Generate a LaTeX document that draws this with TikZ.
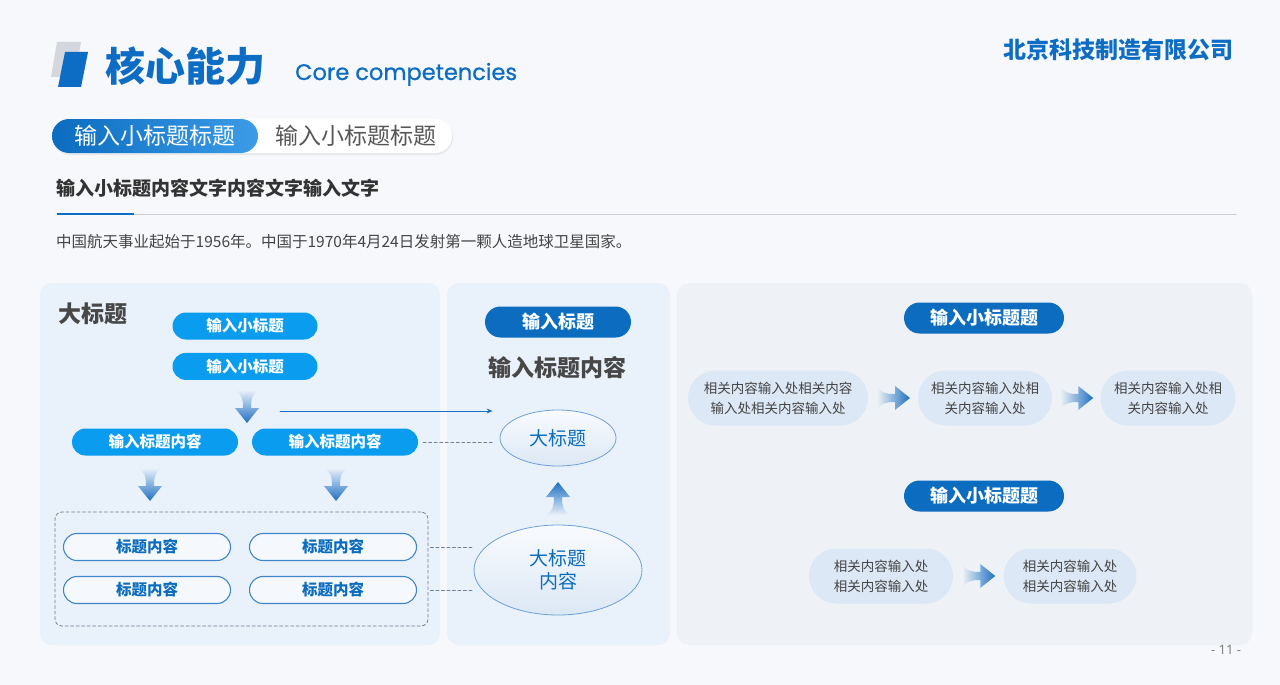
\documentclass[tikz,border=0pt]{standalone}
\usepackage{fontspec}
\setmainfont{Noto Sans CJK SC}
\newfontfamily\latim{Poppins}[FakeBold=0.8]
\newfontfamily\numeros{Noto Sans}
\usetikzlibrary{positioning,calc,arrows.meta,shapes.geometric,shapes.misc,shadows}

\definecolor{azulTitulo}{HTML}{0D6CC4}
\definecolor{azulVivo}{HTML}{0A9CEF}
\definecolor{azulEscuro}{HTML}{0B6CC0}
\definecolor{azulClaro}{HTML}{3C9CE8}
\definecolor{azulSeta}{HTML}{1E6FC2}
\definecolor{fundo}{HTML}{F6F8FB}
\definecolor{painel}{HTML}{E9F1FA}
\definecolor{painelB}{HTML}{EEF2F6}
\definecolor{caixa}{HTML}{DCE8F5}
\definecolor{cinza}{HTML}{444444}
\definecolor{cinzaEsc}{HTML}{333333}
\definecolor{linha}{HTML}{C9CED6}
\definecolor{tracejado}{HTML}{6E7F96}

\begin{document}
\begin{tikzpicture}[
    x=1pt, y=-1pt,
    line cap=round,
    every node/.style={inner sep=0pt},
    pilula/.style={rounded rectangle, fill=azulVivo, text=white,
        font=\bfseries\fontsize{15.5}{18}\selectfont, minimum height=27pt},
    pilulaEsc/.style={rounded rectangle, fill=azulEscuro, text=white,
        font=\bfseries\fontsize{18}{21}\selectfont, minimum height=31pt},
    contorno/.style={rounded rectangle, draw=azulSeta!85, line width=1.1pt,
        fill=white!55!painel, text=azulEscuro,
        font=\bfseries\fontsize{15.5}{18}\selectfont,
        minimum width=167pt, minimum height=27pt},
    bloco/.style={rounded rectangle, fill=caixa, text=cinza, align=center,
        font=\fontsize{13.5}{20}\selectfont, minimum height=55pt},
    elipse/.style={ellipse, draw=azulSeta!65, line width=0.8pt,
        top color=white!70!painel, bottom color=caixa, text=azulEscuro},
    trac/.style={draw=tracejado, line width=0.8pt, dash pattern=on 3pt off 2.5pt},
    fina/.style={-{Stealth[length=6pt,width=5pt]}, draw=azulSeta, line width=0.9pt},
    pics/setaBaixo/.style={
        code={
            \shade[top color=painel, bottom color=azulSeta]
                (-12,-16) .. controls (-5,-12) and (-4,-7) .. (-4,2) -- (-12,2)
                -- (0,17) -- (12,2) -- (4,2) .. controls (4,-7) and (5,-12) .. (12,-16) -- cycle;
        }
    },
    pics/setaCima/.style={
        code={
            \shade[bottom color=painel, top color=azulSeta]
                (-12,16) .. controls (-5,12) and (-4,7) .. (-4,-2) -- (-12,-2)
                -- (0,-17) -- (12,-2) -- (4,-2) .. controls (4,7) and (5,12) .. (12,16) -- cycle;
        }
    },
    pics/setaDir/.style={
        code={
            \shade[left color=painelB, right color=azulSeta]
                (-16,-12) .. controls (-12,-5) and (-7,-4) .. (2,-4) -- (2,-12)
                -- (17,0) -- (2,12) -- (2,4) .. controls (-7,4) and (-12,5) .. (-16,12) -- cycle;
        }
    }
]

% Fundo
\useasboundingbox (0,0) rectangle (1280,685);
\fill[fundo] (0,0) rectangle (1280,685);

% Titulo
\fill[linha!80] (57,42) -- (81,42) -- (75,77) -- (51,77) -- cycle;
\fill[azulTitulo] (65,52) -- (88,52) -- (81,87) -- (58,87) -- cycle;
\node[anchor=west, text=azulTitulo, font=\bfseries\fontsize{40}{44}\selectfont] (titulo) at (105,66) {核心能力};
\node[anchor=base west, text=azulTitulo, font=\latim\fontsize{22.5}{26}\selectfont] (subtitulo) at (295,80) {Core competencies};
\node[anchor=east, text=azulTitulo, font=\bfseries\fontsize{23}{26}\selectfont] (empresa) at (1234,50) {北京科技制造有限公司};

% Abas
\node[rounded rectangle, fill=white, drop shadow={opacity=0.12, shadow xshift=1pt, shadow yshift=-2pt},
    minimum width=400pt, minimum height=34pt] (abaB) at (252,136) {};
\node[rounded rectangle, left color=azulEscuro, right color=azulClaro, text=white,
    font=\fontsize{23}{26}\selectfont, minimum width=206pt, minimum height=34pt] (abaA) at (155,136) {输入小标题标题};
\node[right=17pt of abaA, text=cinza!90, font=\fontsize{23}{26}\selectfont] (abaTexto) {输入小标题标题};

% Secao
\node[anchor=west, text=cinzaEsc, font=\bfseries\fontsize{19}{22}\selectfont] (secao) at (56,188) {输入小标题内容文字内容文字输入文字};
\draw[linha, line width=1pt] (57,214) -- (1236,214);
\draw[azulTitulo, line width=2.5pt, line cap=butt] (57,214) -- (134,214);
\node[anchor=west, text=cinza, font=\fontsize{15.5}{18}\selectfont] (texto) at (56,242) {中国航天事业起始于1956年。中国于1970年4月24日发射第一颗人造地球卫星国家。};

% Paineis
\fill[painel, rounded corners=12pt] (40,283) rectangle (440,645);
\fill[painel, rounded corners=12pt] (447,283) rectangle (670,645);
\fill[painelB, rounded corners=12pt] (677,283) rectangle (1252,645);

% Painel da esquerda
\node[anchor=west, text=cinzaEsc!90, font=\bfseries\fontsize{23}{26}\selectfont] (grande) at (58,314) {大标题};
\node[pilula, minimum width=145pt] (p1) at (245,326) {输入小标题};
\node[pilula, minimum width=145pt, below=13pt of p1] (p2) {输入小标题};
\pic at (247,406) {setaBaixo};
\coordinate (inicio) at (280,411);

\node[pilula, minimum width=166pt] (p3) at (155,442) {输入标题内容};
\node[pilula, minimum width=166pt] (p4) at (335,442) {输入标题内容};
\pic at (150,484) {setaBaixo};
\pic at (336,484) {setaBaixo};

\node[draw=tracejado, line width=0.8pt, dash pattern=on 3pt off 2.5pt, rounded corners=7pt,
    minimum width=373pt, minimum height=114pt] (grupo) at (241.5,569) {};
\node[contorno] (c1) at (147,547) {标题内容};
\node[contorno] (c2) at (333,547) {标题内容};
\node[contorno] (c3) at (147,590) {标题内容};
\node[contorno] (c4) at (333,590) {标题内容};

% Painel do meio
\node[pilulaEsc, minimum width=146pt] (m1) at (558,322) {输入标题};
\node[text=cinzaEsc!90, font=\bfseries\fontsize{23}{26}\selectfont] (m2) at (557,368) {输入标题内容};
\node[elipse, minimum width=116pt, minimum height=56pt, font=\fontsize{19}{22}\selectfont] (e1) at (558,438) {大标题};
\pic at (558,499) {setaCima};
\node[elipse, minimum width=168pt, minimum height=90pt, align=center,
    font=\fontsize{19}{23}\selectfont] (e2) at (558,570) {大标题\\内容};

% Ligacoes
\draw[fina, shorten >=7pt] (inicio) -- (inicio -| e1.west);
\draw[trac, shorten <=5pt, shorten >=5pt] (p4.east) -- (p4.east -| e1.west);
\draw[trac, shorten <=2pt] (grupo.east |- c2) -- (c2 -| e2.west);
\draw[trac, shorten <=2pt] (grupo.east |- c4) -- (c4 -| e2.west);

% Painel da direita
\node[pilulaEsc, minimum width=160pt] (r0) at (984,318) {输入小标题题};
\node[bloco, minimum width=180pt] (r1) at (778,398) {相关内容输入处相关内容\\输入处相关内容输入处};
\node[bloco, minimum width=134pt] (r2) at (985,398) {相关内容输入处相\\关内容输入处};
\node[bloco, minimum width=135pt] (r3) at (1168,398) {相关内容输入处相\\关内容输入处};
\pic at ($(r1.east)!0.5!(r2.west)$) {setaDir};
\pic at ($(r2.east)!0.5!(r3.west)$) {setaDir};

\node[pilulaEsc, minimum width=160pt] (r4) at (984,496) {输入小标题题};
\node[bloco, minimum width=144pt] (r5) at (881,576) {相关内容输入处\\相关内容输入处};
\node[bloco, minimum width=133pt] (r6) at (1070,576) {相关内容输入处\\相关内容输入处};
\pic at ($(r5.east)!0.5!(r6.west)$) {setaDir};

% Pagina
\node[text=gray, font=\numeros\fontsize{13}{15}\selectfont] (pagina) at (1226,650) {- 11 -};

\end{tikzpicture}
\end{document}
